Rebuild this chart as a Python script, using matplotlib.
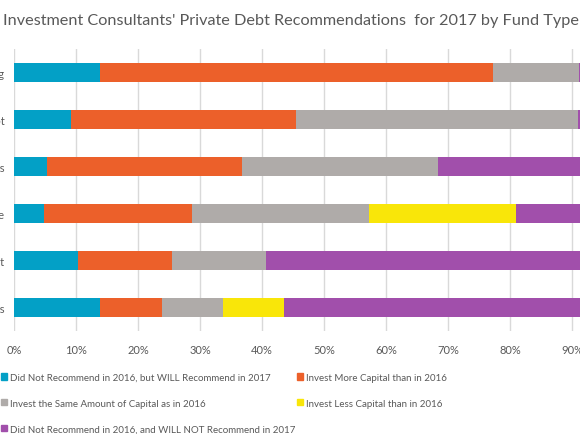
import matplotlib
matplotlib.use("Agg")
import matplotlib.pyplot as plt
from matplotlib.patches import Patch
import numpy as np

plt.rcParams['font.family'] = ['Lato', 'DejaVu Sans']

# fund types (only the tail of each label survives the crop)
fund_types = ['Direct Lending', 'Distressed Debt', 'Special Situations',
              'Mezzanine', 'Venture Debt', 'Credit Opportunities']

series_names = ['Did Not Recommend in 2016, but WILL Recommend in 2017',
                'Invest More Capital than in 2016',
                'Invest the Same Amount of Capital as in 2016',
                'Invest Less Capital than in 2016',
                'Did Not Recommend in 2016, and WILL NOT Recommend in 2017']

will_recommend = [13.8, 9.1, 5.3, 4.8, 10.3, 13.8]
more_capital = [63.4, 36.4, 31.5, 23.8, 15.1, 10.0]
same_capital = [13.9, 45.4, 31.6, 28.6, 15.2, 9.8]
less_capital = [0.0, 0.0, 0.0, 23.8, 0.0, 9.9]
not_recommend = [8.9, 9.1, 31.6, 19.0, 59.4, 56.5]

colors = ['#03A0C6', '#EC602A', '#AFABA9', '#F9E609', '#A14FAB']

series = [will_recommend, more_capital, same_capital, less_capital, not_recommend]

fig = plt.figure(figsize=(5.8, 4.35), dpi=100)
# axes run past the right edge, like the cropped original
ax = fig.add_axes([14.3 / 580, 1 - 332 / 435, 619.7 / 580, 282 / 435])

y = np.arange(len(fund_types))
left = np.zeros(len(fund_types))
for vals, name, c in zip(series, series_names, colors):
    vals = np.array(vals) / 100
    ax.barh(y, vals, left=left, height=0.4, color=c, label=name, zorder=3)
    left += vals

ax.set_xlim(0, 1)
ax.set_ylim(len(fund_types) - 0.5, -0.5)
ax.set_xticks(np.arange(0, 1.01, 0.1))
ax.set_xticklabels([f'{int(round(t * 100))}%' for t in np.arange(0, 1.01, 0.1)])
ax.set_yticks(y)
ax.set_yticklabels(fund_types)
ax.tick_params(axis='both', length=0, labelsize=8, labelcolor='#595959')
ax.tick_params(axis='x', pad=9)
ax.tick_params(axis='y', pad=7.2)
ax.grid(axis='x', color='#D9D9D9', linewidth=1, zorder=0)
for s in ax.spines.values():
    s.set_visible(False)

fig.text(3 / 580, 1 - 21 / 435, "Investment Consultants' Private Debt Recommendations  for 2017 by Fund Type",
         ha='left', va='center', fontsize=11.72, color='#595959')

handles = [Patch(color=c) for c in colors]
order = [0, 2, 4, 1, 3]
leg = fig.legend([handles[i] for i in order], [series_names[i] for i in order],
                 ncol=2, loc='upper left', bbox_to_anchor=(-3 / 580, 1 - 370 / 435),
                 frameon=False, fontsize=7.0, handlelength=0.62, handleheight=0.62,
                 handletextpad=0.3, columnspacing=0.2, labelspacing=1.72, borderaxespad=0)
for t in leg.get_texts():
    t.set_color('#595959')

fig.savefig('out.png', dpi=100)
